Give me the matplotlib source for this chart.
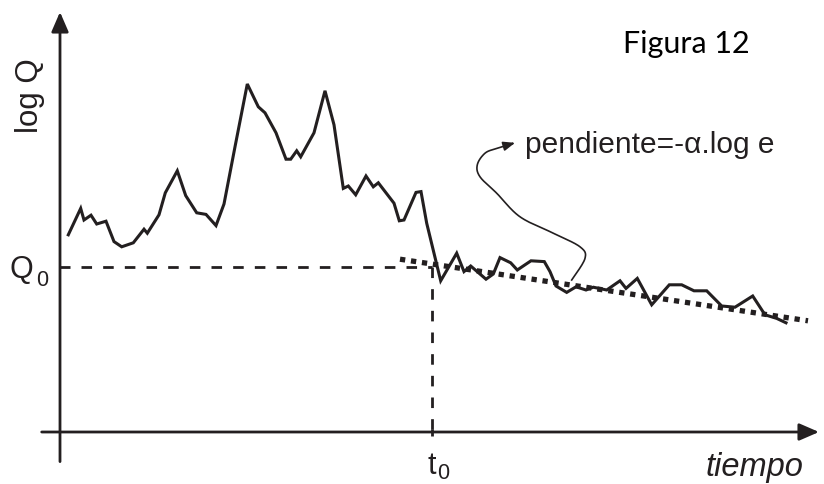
import numpy as np
import matplotlib.pyplot as plt

# hydrograph (time units, log Q units)
tiempo = [0.83, 2.07, 2.40, 3.10, 3.67, 4.60, 5.40, 6.17, 7.33, 8.40, 8.73, 9.90,
          10.53, 11.73, 12.57, 13.67, 14.60, 15.60, 16.40, 17.50, 18.73, 19.83,
          20.50, 21.60, 22.60, 23.07, 23.67, 24.07, 25.40, 26.50, 27.40, 28.33,
          28.83, 29.57, 30.60, 31.33, 31.83, 33.40, 33.93, 34.40, 35.60, 36.10,
          36.67, 38.07, 39.67, 40.40, 41.07, 42.60, 43.33, 44.00, 45.07, 45.73,
          46.50, 47.10, 48.43, 49.00, 49.60, 50.67, 51.60, 52.60, 53.33, 54.67,
          56.00, 56.60, 57.73, 59.17, 60.93, 62.17, 63.40, 64.67, 66.17, 67.50,
          69.27, 70.50, 71.67, 72.60]
log_q = [4.93, 5.59, 5.30, 5.42, 5.20, 5.27, 4.76, 4.63, 4.73, 5.07, 4.97, 5.43,
         5.98, 6.53, 5.91, 5.48, 5.44, 5.16, 5.70, 7.13, 8.70, 8.13,
         7.98, 7.48, 6.82, 6.82, 7.03, 6.88, 7.48, 8.53, 7.68, 6.09,
         6.15, 5.93, 6.40, 6.13, 6.23, 5.72, 5.28, 5.30, 5.99, 6.01,
         5.22, 3.78, 4.47, 4.01, 4.15, 3.82, 3.95, 4.36, 4.23, 4.05,
         4.18, 4.28, 4.26, 4.01, 3.65, 3.49, 3.63, 3.55, 3.62, 3.55,
         3.78, 3.59, 3.84, 3.18, 3.68, 3.68, 3.53, 3.53, 3.15, 3.12,
         3.40, 2.93, 2.84, 2.73]

# recession trend line
trend_t = [34.0, 74.8]
trend_q = [4.32, 2.78]

q0 = 4.12
t0 = 37.17

# hand-drawn annotation arrow
arrow_t = [51.17, 52.50, 52.00, 49.33, 46.00, 43.67, 42.00, 41.73, 42.50, 43.67, 45.50]
arrow_q = [3.80, 4.34, 4.63, 4.97, 5.38, 5.97, 6.38, 6.68, 6.97, 7.09, 7.23]


def catmull_rom(xs, ys, n=20):
    pts = np.column_stack([xs, ys])
    pts = np.vstack([pts[0], pts, pts[-1]])
    out = []
    for i in range(1, len(pts) - 2):
        p0, p1, p2, p3 = pts[i - 1], pts[i], pts[i + 1], pts[i + 2]
        for s in np.linspace(0, 1, n, endpoint=False):
            out.append(0.5 * ((2 * p1) + (-p0 + p2) * s
                              + (2 * p0 - 5 * p1 + 4 * p2 - p3) * s ** 2
                              + (-p0 + 3 * p1 - 3 * p2 + p3) * s ** 3))
    out.append(pts[-2])
    out = np.array(out)
    return out[:, 0], out[:, 1]


fig = plt.figure(figsize=(8.24, 4.84), dpi=100)
ax = fig.add_axes([0, 0, 1, 1])
ax.set_xlim(-6.0, 76.4)
ax.set_ylim(-1.3, 10.8)
ax.axis('off')

ink = '#231f20'

# axes with arrow heads
ax.annotate('', xy=(0, 10.5), xytext=(0, -0.74),
            arrowprops=dict(arrowstyle='-|>,head_length=0.6,head_width=0.26',
                            mutation_scale=20, lw=2, color=ink, shrinkA=0, shrinkB=0))
ax.annotate('', xy=(75.9, 0), xytext=(-1.83, 0),
            arrowprops=dict(arrowstyle='-|>,head_length=0.6,head_width=0.26',
                            mutation_scale=20, lw=2, color=ink, shrinkA=0, shrinkB=0))

# Q0 and t0 guides
ax.plot([0, 1.0], [q0, q0], color=ink, lw=2, solid_capstyle='butt')
ax.plot([2.1, t0], [q0, q0], color=ink, lw=2, dashes=(3.8, 4.0))
ax.plot([t0, t0], [q0, 0], color=ink, lw=2, dashes=(3.8, 4.0))
ax.plot([t0, t0], [0.07, -0.09], color=ink, lw=2, solid_capstyle='butt')

# hydrograph
ax.plot(tiempo, log_q, color=ink, lw=2.2, solid_joinstyle='miter')

# trend
ax.plot(trend_t, trend_q, color=ink, lw=3.8, dashes=(1, 1.1), dash_capstyle='butt')

# curved arrow to the label
cx, cy = catmull_rom(arrow_t, arrow_q)
ax.plot(cx[:-4], cy[:-4], color=ink, lw=1.2)
ax.annotate('', xy=(cx[-1], cy[-1]), xytext=(cx[-6], cy[-6]),
            arrowprops=dict(arrowstyle='-|>,head_length=0.5,head_width=0.2',
                            mutation_scale=14, lw=1.2, color=ink, shrinkA=0, shrinkB=0))

font = 'Liberation Sans'
ax.text(-3.0, 8.4, 'log Q', rotation=90, ha='center', va='center',
        fontsize=22.5, family=font, color=ink)
ax.text(-5.0, 3.85, 'Q', ha='left', va='baseline', fontsize=22, family=font, color=ink)
ax.text(-2.4, 3.66, '0', ha='left', va='baseline', fontsize=15.5, family=font, color=ink)
ax.text(36.7, -1.06, 't', ha='left', va='baseline', fontsize=22, family=font, color=ink)
ax.text(37.7, -1.18, '0', ha='left', va='baseline', fontsize=15.5, family=font, color=ink)
ax.text(64.6, -1.1, 'tiempo', ha='left', va='baseline', fontsize=23.5,
        style='italic', family=font, color=ink)
ax.text(46.5, 6.975, 'pendiente=-α.log e', ha='left', va='baseline',
        fontsize=21.5, family=font, color=ink)
ax.text(56.3, 9.47, 'Figura 12', ha='left', va='baseline', fontsize=22,
        family='Lato', color='black')

plt.savefig('out.png', dpi=100)
